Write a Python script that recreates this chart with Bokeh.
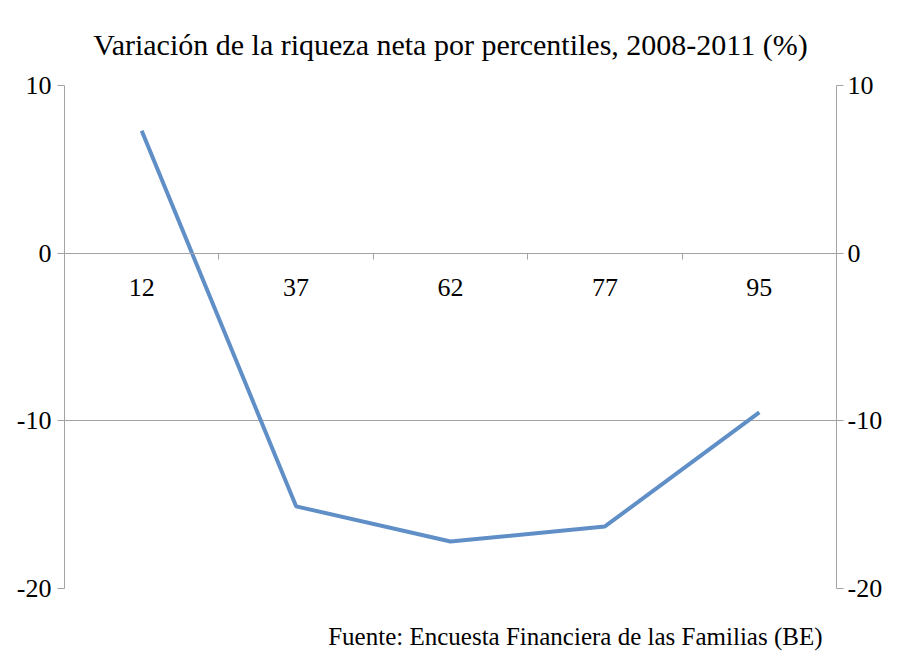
from bokeh.plotting import figure
from bokeh.models import LinearAxis, FixedTicker, Range1d, Title, Grid
from bokeh.embed import file_html
from bokeh.resources import INLINE

percentiles = ["12", "37", "62", "77", "95"]
variation = [7.3, -15.1, -17.2, -16.3, -9.5]
y_ticks = [-20, -10, 0, 10]
title_text = "Variación de la riqueza neta por percentiles, 2008-2011 (%)"
source_text = "Fuente: Encuesta Financiera de las Familias (BE)"

FONT = "Liberation Serif"
GRAY = "#a3a3a3"
LINE = "#5f8fc6"

n = len(percentiles)
xs = [i + 0.5 for i in range(n)]

p = figure(width=892, height=664, frame_width=772, frame_height=503,
           min_border_left=64, min_border_right=56, min_border_top=85, min_border_bottom=76,
           x_range=Range1d(0, n), y_range=Range1d(min(y_ticks), max(y_ticks)),
           output_backend="svg", toolbar_location=None, x_axis_type=None, y_axis_type=None)
p.outline_line_color = None
p.background_fill_color = "white"
p.border_fill_color = "white"

y_labels = {t: str(t) for t in y_ticks}

def style_y(ax, standoff):
    ax.ticker = FixedTicker(ticks=y_ticks)
    ax.major_label_overrides = y_labels
    ax.axis_line_color = GRAY
    ax.major_tick_line_color = GRAY
    ax.major_tick_out = 7
    ax.major_tick_in = 0
    ax.minor_tick_line_color = None
    ax.major_label_text_font = FONT
    ax.major_label_text_font_size = "26px"
    ax.major_label_text_color = "black"
    ax.major_label_standoff = standoff

yl = LinearAxis()
style_y(yl, 6)
p.add_layout(yl, "left")
yr = LinearAxis()
style_y(yr, 4)
p.add_layout(yr, "right")

xa = LinearAxis(fixed_location=0)
xa.ticker = FixedTicker(ticks=xs, minor_ticks=list(range(n + 1)))
xa.major_label_overrides = {x: lab for x, lab in zip(xs, percentiles)}
xa.major_tick_line_color = None
xa.minor_tick_line_color = GRAY
xa.minor_tick_out = 6
xa.minor_tick_in = 0
xa.axis_line_color = GRAY
xa.major_label_text_font = FONT
xa.major_label_text_font_size = "26px"
xa.major_label_text_color = "black"
xa.major_label_standoff = 20
p.add_layout(xa, "below")

g = Grid(dimension=1, ticker=FixedTicker(ticks=[t for t in y_ticks if t != 0]),
         grid_line_color=GRAY, grid_line_width=1)
p.add_layout(g)

p.line(xs, variation, line_color=LINE, line_width=4)

p.add_layout(Title(text=title_text, align="center", text_font=FONT,
                   text_font_size="30px", text_font_style="normal",
                   text_color="black", standoff=50), "above")
p.add_layout(Title(text=source_text, align="right", text_font=FONT,
                   text_font_size="25px", text_font_style="normal",
                   text_color="black", offset=14, standoff=64), "below")

open("out.html", "w").write(file_html(p, INLINE))
